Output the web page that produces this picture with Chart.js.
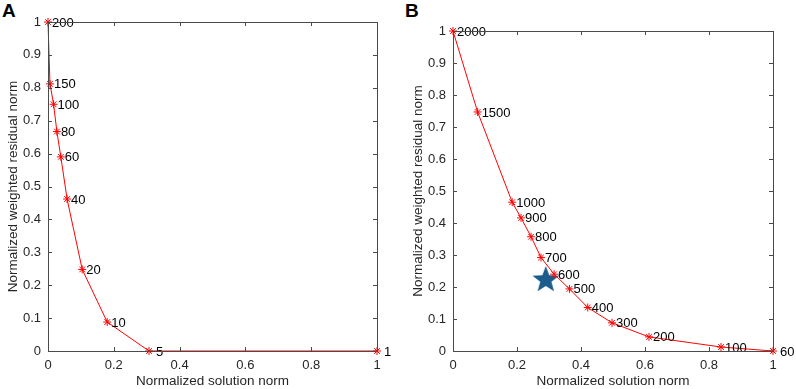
<!DOCTYPE html>
<html>
<head>
<meta charset="utf-8">
<script src="https://cdn.jsdelivr.net/npm/chart.js@4"></script>
<style>
  body { margin: 0; background: #fff; width: 796px; height: 389px; overflow: hidden; position: relative; font-family: "Liberation Sans", Arial, sans-serif; }
  .panel { position: absolute; top: 0; width: 398px; height: 389px; }
  .letter { position: absolute; top: 0px; font-weight: bold; font-size: 19px; color: #000; }
</style>
</head>
<body>
<div class="letter" style="left:2px">A</div>
<div class="letter" style="left:405px">B</div>
<div class="panel" style="left:0"><canvas id="chartA"></canvas></div>
<div class="panel" style="left:398px"><canvas id="chartB"></canvas></div>
<script>
// Panel A: normalized solution norm / residual norm, labels = regularization values
const labelsA = ['200', '150', '100', '80', '60', '40', '20', '10', '5', '1'];
const solA = [0, 0.006, 0.017, 0.027, 0.039, 0.058, 0.104, 0.180, 0.307, 1];
const resA = [1, 0.812, 0.75, 0.667, 0.59, 0.462, 0.248, 0.088, 0, 0];

// Panel B
const labelsB = ['2000', '1500', '1000', '900', '800', '700', '600', '500', '400', '300', '200', '100', '60'];
const solB = [0, 0.077, 0.185, 0.2125, 0.244, 0.275, 0.316, 0.364, 0.421, 0.497, 0.6125, 0.8375, 1];
const resB = [1, 0.747, 0.465, 0.416, 0.357, 0.292, 0.240, 0.194, 0.136, 0.088, 0.044, 0.0125, 0];

// selected point (star) in panel B
const starB = [{ x: 0.29, y: 0.222 }];

const xTicks = [0, 0.2, 0.4, 0.6, 0.8, 1];
const yTicks = [0, 0.1, 0.2, 0.3, 0.4, 0.5, 0.6, 0.7, 0.8, 0.9, 1];

const FONT = '"Liberation Sans", Arial, sans-serif';
const AXIS_COLOR = '#4a4a4a';
const TEXT_COLOR = '#262626';

// filled 5 point star as image for pointStyle
function makeStar(r, color) {
  const c = document.createElement('canvas');
  c.width = c.height = r * 2 + 2;
  const g = c.getContext('2d');
  g.fillStyle = color;
  g.beginPath();
  for (let i = 0; i < 10; i++) {
    const rad = i % 2 === 0 ? r : r * 0.42;
    const a = -Math.PI / 2 + i * Math.PI / 5;
    const px = r + 1 + rad * Math.cos(a);
    const py = r + 1 + rad * Math.sin(a);
    if (i === 0) g.moveTo(px, py); else g.lineTo(px, py);
  }
  g.closePath();
  g.fill();
  return c;
}

// MATLAB style box: border on all sides, ticks pointing inward
const boxPlugin = {
  id: 'box',
  afterDraw(chart) {
    const { ctx, chartArea: a, scales } = chart;
    ctx.save();
    ctx.strokeStyle = AXIS_COLOR;
    ctx.lineWidth = 1;
    ctx.strokeRect(Math.round(a.left) + 0.5, Math.round(a.top) + 0.5, Math.round(a.right - a.left), Math.round(a.bottom - a.top));
    const len = 4;
    ctx.beginPath();
    xTicks.forEach(v => {
      const px = Math.round(scales.x.getPixelForValue(v)) + 0.5;
      ctx.moveTo(px, a.bottom); ctx.lineTo(px, a.bottom - len);
      ctx.moveTo(px, a.top); ctx.lineTo(px, a.top + len);
    });
    yTicks.forEach(v => {
      const py = Math.round(scales.y.getPixelForValue(v)) + 0.5;
      ctx.moveTo(a.left, py); ctx.lineTo(a.left + len, py);
      ctx.moveTo(a.right, py); ctx.lineTo(a.right - len, py);
    });
    ctx.stroke();
    ctx.restore();
  }
};

// text next to each point
const pointLabelPlugin = {
  id: 'pointLabels',
  afterDatasetsDraw(chart) {
    const ctx = chart.ctx;
    const ds = chart.data.datasets[0];
    const meta = chart.getDatasetMeta(0);
    ctx.save();
    ctx.font = '13px ' + FONT;
    ctx.fillStyle = '#000';
    ctx.textBaseline = 'middle';
    ctx.textAlign = 'left';
    meta.data.forEach((pt, i) => {
      const off = ds.pointText[i].length === 1 || i === meta.data.length - 1 ? 7 : 4;
      ctx.fillText(ds.pointText[i], pt.x + off, pt.y + 1);
    });
    ctx.restore();
  }
};

function scaleOpts(ticks, title, fixedSize, isY, titlePad) {
  return {
    type: 'linear',
    min: 0,
    max: 1,
    afterBuildTicks: s => { s.ticks = ticks.map(v => ({ value: v })); },
    afterFit: s => { if (isY) s.width = fixedSize; else s.height = fixedSize; },
    grid: { display: false, drawTicks: false },
    border: { display: false },
    ticks: {
      color: TEXT_COLOR,
      font: { family: FONT, size: 13 },
      padding: isY ? 7 : 7,
      maxRotation: 0,
      autoSkip: false,
      callback: v => String(+v.toFixed(1))
    },
    title: {
      display: true,
      text: title,
      color: TEXT_COLOR,
      font: { family: FONT, size: 13.5 },
      padding: { top: titlePad, bottom: 0 }
    }
  };
}

function makeChart(id, sol, res, labels, pad, yWidth, yTitlePad, extra) {
  const datasets = [{
    data: sol.map((x, i) => ({ x: x, y: res[i] })),
    pointText: labels,
    showLine: true,
    borderColor: '#ff0000',
    backgroundColor: '#ff0000',
    borderWidth: 1,
    pointStyle: 'star',
    pointRadius: 4,
    pointBorderWidth: 1,
    pointBorderColor: '#ff0000',
    clip: false
  }];
  if (extra) datasets.push(extra);
  return new Chart(document.getElementById(id), {
    type: 'scatter',
    data: { datasets: datasets },
    options: {
      responsive: true,
      maintainAspectRatio: false,
      animation: false,
      layout: { padding: pad },
      plugins: { legend: { display: false }, tooltip: { enabled: false } },
      scales: {
        x: scaleOpts(xTicks, 'Normalized solution norm', 38, false, 0),
        y: scaleOpts(yTicks, 'Normalized weighted residual norm', yWidth, true, yTitlePad)
      }
    },
    plugins: [boxPlugin, pointLabelPlugin]
  });
}

makeChart('chartA', solA, resA, labelsA, { left: 0, top: 22, right: 21, bottom: 0 }, 48, 5, null);

makeChart('chartB', solB, resB, labelsB, { left: 0, top: 31, right: 23, bottom: 0 }, 55, 12, {
  data: starB,
  showLine: false,
  pointStyle: makeStar(14, '#1b5c8d'),
  pointRadius: 14,
  clip: false
});
</script>
</body>
</html>
